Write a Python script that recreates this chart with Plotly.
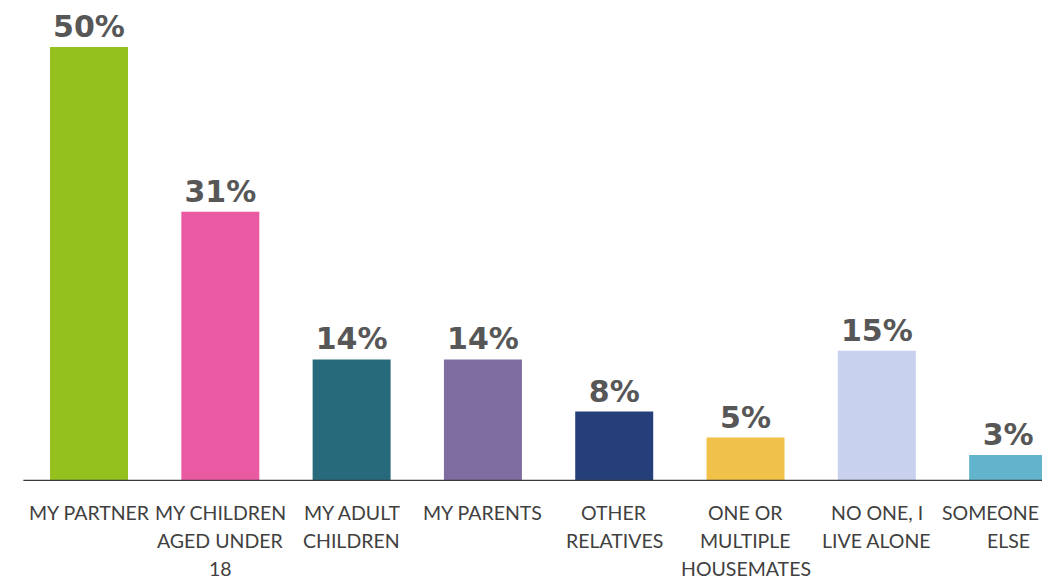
import plotly.graph_objects as go

categories = [
    "MY PARTNER",
    "MY CHILDREN<br>AGED UNDER<br>18",
    "MY ADULT<br>CHILDREN",
    "MY PARENTS",
    "OTHER<br>RELATIVES",
    "ONE OR<br>MULTIPLE<br>HOUSEMATES",
    "NO ONE, I<br>LIVE ALONE",
    "SOMEONE<br>ELSE",
]
values = [50, 31, 14, 14, 8, 5, 15, 3]
colors = ["#95c11f", "#ea5aa3", "#276a7c", "#7f6ca1", "#243f7a",
          "#f0c24a", "#c8d1ee", "#62b3cc"]

x = list(range(len(values)))

fig = go.Figure(
    go.Bar(
        x=x,
        y=values,
        marker=dict(color=colors, line=dict(width=0)),
        width=0.594,
        text=[f"{v}%" for v in values],
        textposition="outside",
        textfont=dict(family="DejaVu Sans", size=30, color="#575757", weight="bold"),
        cliponaxis=False,
        hoverinfo="skip",
    )
)

# category labels, one annotation per line for even line spacing
annotations = []
last = len(categories) - 1
for i, label in enumerate(categories):
    for j, line in enumerate(label.split("<br>")):
        ann = dict(
            x=i, y=0, xref="x", yref="y",
            text=line, showarrow=False,
            xanchor="center", yanchor="middle",
            yshift=-31 - 28 * j,
            font=dict(family="Lato", size=19.5, color="#404040"),
        )
        # keep the widest label of the edge category inside the page
        if i == last and j == 0:
            ann.update(xref="paper", x=1, xanchor="right", xshift=-1)
        annotations.append(ann)

fig.update_layout(
    width=1042, height=581,
    margin=dict(l=0, r=0, t=0, b=100),
    paper_bgcolor="white", plot_bgcolor="white",
    showlegend=False,
    annotations=annotations,
    shapes=[dict(type="line", xref="x", yref="y", x0=-0.5, x1=7.3, y0=0, y1=0,
                 line=dict(color="#3a3a3a", width=2.5))],
    xaxis=dict(range=[-0.678, 7.258], showticklabels=False, showgrid=False,
               zeroline=False, showline=False, fixedrange=True),
    yaxis=dict(range=[0, 55.4], showticklabels=False, showgrid=False,
               zeroline=False, showline=False, fixedrange=True),
)

fig.write_html("out.html")
